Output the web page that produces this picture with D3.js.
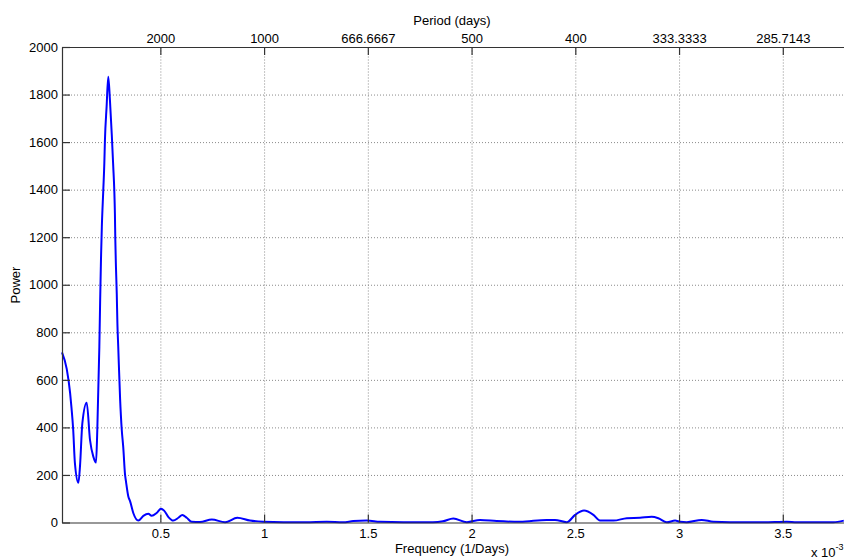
<!DOCTYPE html>
<html>
<head>
<meta charset="utf-8">
<script src="https://cdn.jsdelivr.net/npm/d3@7"></script>
<style>
  html, body { margin: 0; padding: 0; background: #fff; }
  svg { display: block; font-family: "Liberation Sans", Arial, sans-serif; }
</style>
</head>
<body>
<svg id="chart" width="844" height="559"></svg>
<script>
// Frequency in units of 1e-3 cycles/day, power spectrum
const freq = [0.026, 0.049, 0.065, 0.072, 0.080, 0.088, 0.105, 0.113, 0.124, 0.145,
  0.161, 0.177, 0.190, 0.196, 0.206, 0.210, 0.214, 0.218, 0.225, 0.230,
  0.233, 0.241, 0.249, 0.257, 0.266, 0.273, 0.278, 0.281, 0.283, 0.286,
  0.290, 0.293, 0.297, 0.306, 0.314, 0.321, 0.330, 0.334, 0.346, 0.354,
  0.370, 0.394, 0.418, 0.442, 0.458, 0.482, 0.503, 0.518, 0.538, 0.562,
  0.587, 0.606, 0.627, 0.651, 0.691, 0.748, 0.812, 0.871, 0.932, 0.996,
  1.093, 1.200, 1.302, 1.380, 1.430, 1.495, 1.559, 1.671, 1.814, 1.862,
  1.912, 1.977, 2.041, 2.121, 2.234, 2.362, 2.402, 2.459, 2.499, 2.542,
  2.587, 2.619, 2.684, 2.748, 2.812, 2.868, 2.900, 2.941, 2.981, 3.005,
  3.037, 3.109, 3.165, 3.246, 3.406, 3.519, 3.567, 3.744, 3.794];
const power = [716, 645, 545, 480, 390, 252, 167, 240, 417, 504,
  347, 277, 252, 385, 739, 940, 1111, 1244, 1398, 1511,
  1609, 1749, 1875, 1777, 1630, 1497, 1398, 1300, 1188, 1076,
  960, 838, 740, 520, 390, 319, 200, 175, 108, 90,
  39, 8, 28, 37, 28, 40, 58, 50, 24, 8,
  20, 32, 20, 3, 2, 13, 1, 20, 8, 3,
  1, 1, 3, 1, 6, 8, 3, 1, 1, 5,
  17, 1, 11, 6, 3, 11, 11, 1, 32, 50,
  32, 8, 8, 18, 20, 24, 18, 1, 8, 3,
  1, 11, 3, 1, 1, 3, 1, 1, 8];

const freqTicks = [0.5, 1, 1.5, 2, 2.5, 3, 3.5];
const freqTickLabels = ["0.5", "1", "1.5", "2", "2.5", "3", "3.5"];
const periodTickLabels = ["2000", "1000", "666.6667", "500", "400", "333.3333", "285.7143"];
const powerTicks = [0, 200, 400, 600, 800, 1000, 1200, 1400, 1600, 1800, 2000];

const svg = d3.select("#chart");
const plotLeft = 62, plotTop = 47, plotRight = 844, plotBottom = 522.5;

const x = d3.scaleLinear().domain([0.026, 3.795]).range([plotLeft, plotRight]);
const y = d3.scaleLinear().domain([0, 2000]).range([plotBottom, plotTop]);

const gridColor = "#8a8a8a";
const axisColor = "#333";

// Dotted grid
svg.append("g")
  .attr("transform", `translate(0,${plotBottom})`)
  .call(d3.axisBottom(x).tickValues(freqTicks).tickSize(-(plotBottom - plotTop)).tickSizeOuter(0).tickFormat(""))
  .call(g => g.select(".domain").remove())
  .call(g => g.selectAll("line").attr("stroke", gridColor).attr("stroke-dasharray", "1,2"));
svg.append("g")
  .attr("transform", `translate(${plotLeft},0)`)
  .call(d3.axisLeft(y).tickValues(powerTicks.filter(v => v > 0 && v < 2000)).tickSize(-(plotRight - plotLeft)).tickSizeOuter(0).tickFormat(""))
  .call(g => g.select(".domain").remove())
  .call(g => g.selectAll("line").attr("stroke", gridColor).attr("stroke-dasharray", "1,2"));

// Spectrum curve
const line = d3.line()
  .x((d, i) => x(freq[i]))
  .y(d => y(d))
  .curve(d3.curveMonotoneX);
svg.append("path")
  .datum(power)
  .attr("fill", "none")
  .attr("stroke", "#0000ff")
  .attr("stroke-width", 2)
  .attr("stroke-linejoin", "round")
  .attr("d", line);

function styleAxis(g) {
  g.select(".domain").attr("stroke", axisColor).attr("stroke-width", 1.2);
  g.selectAll(".tick line").attr("stroke", axisColor).attr("stroke-width", 1.2);
  g.selectAll("text").attr("fill", "#000").attr("font-size", 13)
    .attr("font-family", "'Liberation Sans', Arial, sans-serif");
}

// Bottom axis (frequency)
svg.append("g")
  .attr("transform", `translate(0,${plotBottom})`)
  .call(d3.axisBottom(x).tickValues(freqTicks).tickSize(-8).tickSizeOuter(0).tickPadding(6)
    .tickFormat((d, i) => freqTickLabels[i]))
  .call(styleAxis);

// Top axis (period)
svg.append("g")
  .attr("transform", `translate(0,${plotTop})`)
  .call(d3.axisTop(x).tickValues(freqTicks).tickSize(-8).tickSizeOuter(0).tickPadding(4)
    .tickFormat((d, i) => periodTickLabels[i]))
  .call(styleAxis);

// Left axis (power)
svg.append("g")
  .attr("transform", `translate(${plotLeft},0)`)
  .call(d3.axisLeft(y).tickValues(powerTicks).tickSize(-8).tickSizeOuter(0).tickPadding(4)
    .tickFormat(d3.format("d")))
  .call(styleAxis);

// Axis titles
svg.append("text").attr("x", 452).attr("y", 25).attr("text-anchor", "middle")
  .attr("font-size", 13).text("Period (days)");
svg.append("text").attr("x", 452).attr("y", 553).attr("text-anchor", "middle")
  .attr("font-size", 13).text("Frequency (1/Days)");
svg.append("text").attr("transform", "translate(20,285) rotate(-90)").attr("text-anchor", "middle")
  .attr("font-size", 13).text("Power");

// Exponent marker for the frequency axis
const expo = svg.append("text").attr("x", 811).attr("y", 557).attr("font-size", 13);
expo.append("tspan").text("x 10");
expo.append("tspan").attr("font-size", 9).attr("dy", -7).text("-3");
</script>
</body>
</html>
